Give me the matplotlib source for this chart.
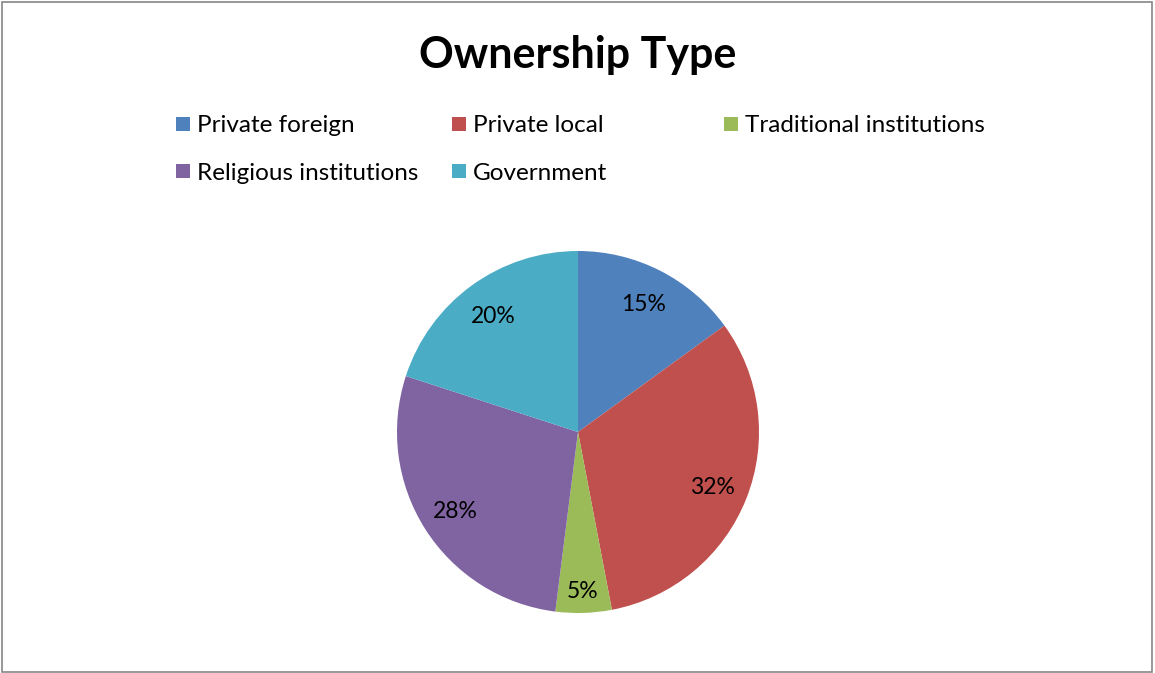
import matplotlib.pyplot as plt
from matplotlib.patches import Rectangle
import numpy as np

labels = ['Private foreign', 'Private local', 'Traditional institutions',
          'Religious institutions', 'Government']
shares = [15, 32, 5, 28, 20]
colors = ['#4F81BD', '#C0504D', '#9BBB59', '#8064A2', '#4BACC6']

W, H = 1155, 673
plt.rcParams['font.family'] = ['Lato', 'DejaVu Sans']
fig = plt.figure(figsize=(W / 100, H / 100), dpi=100)

# frame round the chart area
fig.add_artist(Rectangle((2 / W, 1 / H), 1150 / W, 670 / H, transform=fig.transFigure,
                         fill=False, edgecolor='#868686', lw=1.2))

fig.text(578 / W, 1 - 55 / H, 'Ownership Type', ha='center', va='center',
         fontsize=31, fontweight='bold')

# legend in rows of three, fixed column width
col_x = [176, 452, 724]
row_y = [124, 171]
for i, (lab, c) in enumerate(zip(labels, colors)):
    x = col_x[i % 3]
    y = row_y[i // 3]
    fig.add_artist(Rectangle((x / W, 1 - (y + 7) / H), 14 / W, 14 / H,
                             transform=fig.transFigure, color=c, lw=0))
    fig.text((x + 21) / W, 1 - (y + 2) / H, lab, ha='left', va='center', fontsize=17.5)

# pie
cx, cy, r = 578, 432, 181
ax = fig.add_axes([(cx - r) / W, 1 - (cy + r) / H, 2 * r / W, 2 * r / H])
wedges, texts, autotexts = ax.pie(shares, colors=colors, startangle=90, counterclock=False,
                                  autopct='%d%%', pctdistance=0.8, radius=1,
                                  textprops={'fontsize': 16.5})
for w, t, v in zip(wedges, autotexts, shares):
    t.set_va('center_baseline')
    # small slice label sits further out
    if v < 10:
        ang = np.deg2rad((w.theta1 + w.theta2) / 2)
        t.set_position((0.87 * np.cos(ang), 0.87 * np.sin(ang)))
ax.set_xlim(-1, 1)
ax.set_ylim(-1, 1)
ax.set_aspect('equal')
ax.axis('off')

fig.savefig('out.png', dpi=100)
